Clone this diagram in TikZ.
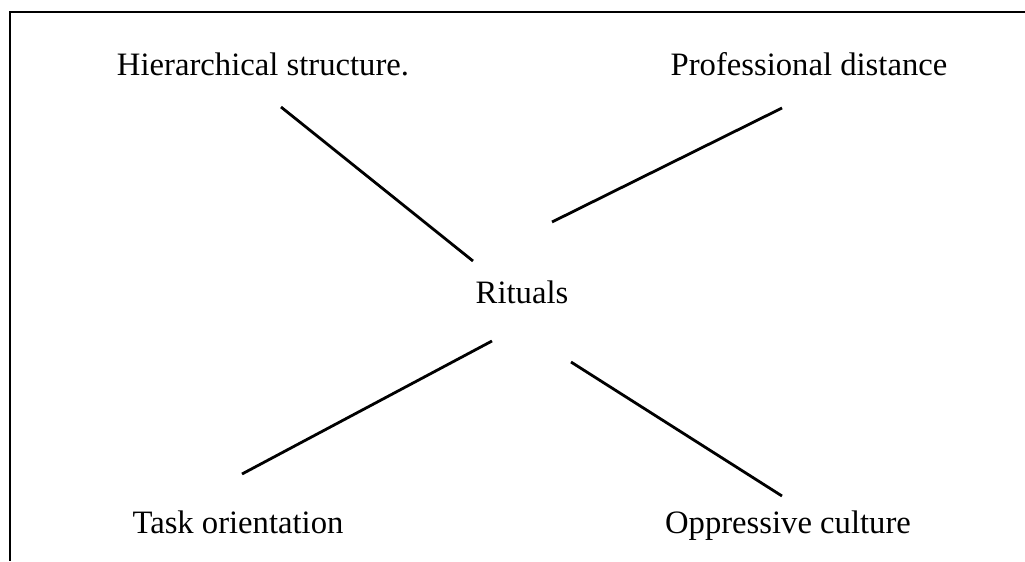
\documentclass[tikz,border=0pt]{standalone}
\usepackage{fontspec}
\setmainfont{Liberation Serif}
\begin{document}
\begin{tikzpicture}[x=0.75pt,y=-0.75pt,
  label/.style={font=\fontsize{24.5}{28}\selectfont, inner sep=0pt, anchor=base},
  link/.style={line width=2.1pt},
  frame/.style={line width=2.2pt}]
\useasboundingbox (0,0) rectangle (1025,561);
% open frame: top and left edges only
\coordinate (ftl) at (10,12);
\coordinate (ftr) at (1025,12);
\coordinate (fbl) at (10,561);
\draw[frame] (ftr) -- (ftl) -- (fbl);
% labels (placed on their baselines)
\node[label] (hier) at (263,75) {Hierarchical structure.};
\node[label] (prof) at (809,75) {Professional distance};
\node[label] (rit) at (522,303) {Rituals};
\node[label] (task) at (238,533) {Task orientation};
\node[label] (opp) at (788,533) {Oppressive culture};
% connector end points
\coordinate (h1) at (281,107); \coordinate (h2) at (473,261);
\coordinate (p1) at (782,108); \coordinate (p2) at (552,222);
\coordinate (t1) at (242,474); \coordinate (t2) at (492,341);
\coordinate (o1) at (782,496); \coordinate (o2) at (571,362);
\draw[link] (h1) -- (h2);
\draw[link] (p1) -- (p2);
\draw[link] (t1) -- (t2);
\draw[link] (o1) -- (o2);
\end{tikzpicture}
\end{document}
